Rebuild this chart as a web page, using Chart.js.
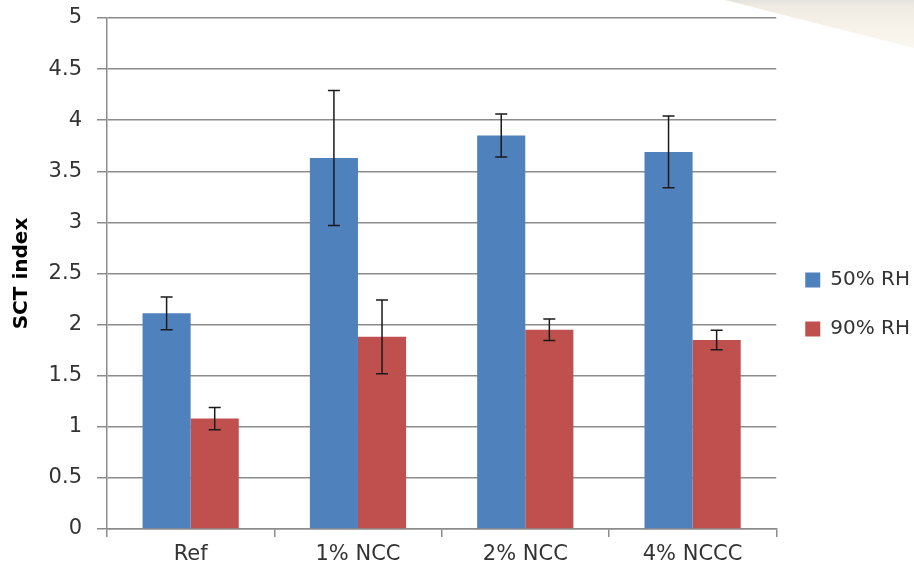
<!DOCTYPE html>
<html>
<head>
<meta charset="utf-8">
<script src="https://cdn.jsdelivr.net/npm/chart.js@4.4.1/dist/chart.umd.min.js"></script>
<style>
  html, body { margin: 0; padding: 0; background: #fff; }
  #wrap { position: relative; width: 914px; height: 579px; overflow: hidden; }
  #wedge {
    position: absolute; left: 0; top: 0; width: 914px; height: 60px;
    background: linear-gradient(to bottom, #e4e3de 0px, #efebe2 6px, #f7f3ea 30px, #fcfaf5 60px);
    clip-path: polygon(725px 0, 914px 0, 914px 48px);
  }
  #myChart { position: absolute; left: 0; top: 0; }
</style>
</head>
<body>
<div id="wrap">
  <div id="wedge"></div>
  <canvas id="myChart" width="914" height="579"></canvas>
</div>
<script>
// data
var categories = ['Ref', '1% NCC', '2% NCC', '4% NCCC'];
var seriesNames = ['50% RH', '90% RH'];
var rh50 = [2.11, 3.63, 3.85, 3.69];
var rh50Err = [0.16, 0.66, 0.21, 0.35];
var rh90 = [1.08, 1.88, 1.95, 1.85];
var rh90Err = [0.11, 0.36, 0.105, 0.095];
var yTickLabels = ['0', '0.5', '1', '1.5', '2', '2.5', '3', '3.5', '4', '4.5', '5'];

var errors = [rh50Err, rh90Err];

/*error bars------------------------------*/
var errorBars = {
  id: 'errorBars',
  afterDatasetsDraw: function(chart) {
    var ctx = chart.ctx;
    var yScale = chart.scales.y;
    ctx.save();
    ctx.strokeStyle = '#1a1a1a';
    ctx.lineWidth = 1.5;
    chart.data.datasets.forEach(function(ds, di) {
      var meta = chart.getDatasetMeta(di);
      meta.data.forEach(function(bar, i) {
        var v = ds.data[i], e = errors[di][i];
        var yTop = yScale.getPixelForValue(v + e);
        var yBot = yScale.getPixelForValue(v - e);
        var x = bar.x;
        ctx.beginPath();
        ctx.moveTo(x, yTop); ctx.lineTo(x, yBot);
        ctx.moveTo(x - 6, yTop); ctx.lineTo(x + 6, yTop);
        ctx.moveTo(x - 6, yBot); ctx.lineTo(x + 6, yBot);
        ctx.stroke();
      });
    });
    ctx.restore();
  }
};

Chart.defaults.font.family = '"DejaVu Sans", sans-serif';
Chart.defaults.color = '#333';

var ctx = document.getElementById('myChart').getContext('2d');
var myChart = new Chart(ctx, {
  type: 'bar',
  data: {
    labels: categories,
    datasets: [{
      label: seriesNames[0],
      data: rh50,
      backgroundColor: '#4F81BD',
      borderWidth: 0
    }, {
      label: seriesNames[1],
      data: rh90,
      backgroundColor: '#C0504D',
      borderWidth: 0
    }]
  },
  options: {
    responsive: false,
    animation: false,
    categoryPercentage: 0.575,
    barPercentage: 1,
    layout: { padding: { left: 10, top: 0, right: -6, bottom: 0 } },
    plugins: {
      tooltip: { enabled: false },
      legend: {
        position: 'right',
        title: { display: true, text: '', font: { size: 10 }, padding: { top: 18, bottom: 0 } },
        labels: {
          boxWidth: 15,
          boxHeight: 15,
          padding: 29,
          font: { size: 20 }
        }
      }
    },
    scales: {
      x: {
        grid: {
          drawOnChartArea: false,
          drawTicks: true,
          tickLength: 8,
          color: '#8c8c8c',
          lineWidth: 1.5
        },
        border: { color: '#8c8c8c', width: 1.5 },
        ticks: { font: { size: 21 }, padding: 5 },
        afterFit: function(scale) { scale.height = 50; }
      },
      y: {
        min: 0,
        max: 5,
        grid: {
          color: '#8c8c8c',
          lineWidth: 1.5,
          tickLength: 10
        },
        border: { color: '#8c8c8c', width: 1.5 },
        ticks: {
          stepSize: 0.5,
          font: { size: 21 },
          padding: 15,
          callback: function(value, index) { return yTickLabels[index]; }
        },
        title: {
          display: true,
          text: 'SCT index',
          font: { size: 20, weight: 'bold' },
          color: '#000',
          padding: { top: 0, bottom: 0 }
        },
        afterFit: function(scale) { scale.width = 97; scale.paddingTop = 18; }
      }
    }
  },
  plugins: [errorBars]
});
</script>
</body>
</html>
